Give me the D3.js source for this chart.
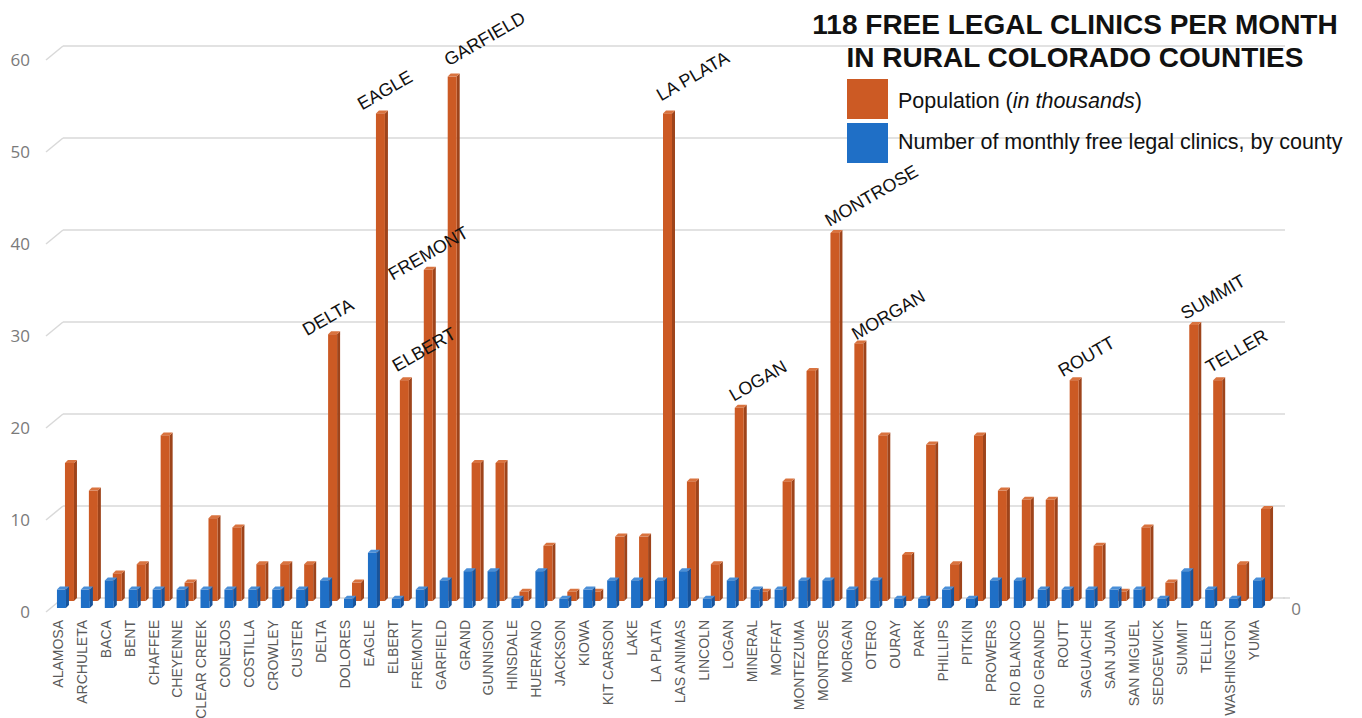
<!DOCTYPE html>
<html>
<head>
<meta charset="utf-8">
<script src="https://cdn.jsdelivr.net/npm/d3@7"></script>
<style>
  body { margin: 0; background: #fff; }
  svg  { display: block; }
</style>
</head>
<body>
<svg id="chart" width="1362" height="718"></svg>
<script>
// ── Data ──────────────────────────────────────────────────────────────────────

const counties = [
  'ALAMOSA', 'ARCHULETA', 'BACA', 'BENT', 'CHAFFEE', 'CHEYENNE', 'CLEAR CREEK',
  'CONEJOS', 'COSTILLA', 'CROWLEY', 'CUSTER', 'DELTA', 'DOLORES', 'EAGLE',
  'ELBERT', 'FREMONT', 'GARFIELD', 'GRAND', 'GUNNISON', 'HINSDALE', 'HUERFANO',
  'JACKSON', 'KIOWA', 'KIT CARSON', 'LAKE', 'LA PLATA', 'LAS ANIMAS', 'LINCOLN',
  'LOGAN', 'MINERAL', 'MOFFAT', 'MONTEZUMA', 'MONTROSE', 'MORGAN', 'OTERO',
  'OURAY', 'PARK', 'PHILLIPS', 'PITKIN', 'PROWERS', 'RIO BLANCO', 'RIO GRANDE',
  'ROUTT', 'SAGUACHE', 'SAN JUAN', 'SAN MIGUEL', 'SEDGEWICK', 'SUMMIT', 'TELLER',
  'WASHINGTON', 'YUMA'
];

// Population, in thousands
const population = [
  15, 12, 3, 4, 18, 2, 9,
  8, 4, 4, 4, 29, 2, 53,
  24, 36, 57, 15, 15, 1, 6,
  1, 1, 7, 7, 53, 13, 4,
  21, 1, 13, 25, 40, 28, 18,
  5, 17, 4, 18, 12, 11, 11,
  24, 6, 1, 8, 2, 30, 24,
  4, 10
];

// Monthly free legal clinics
const clinics = [
  2, 2, 3, 2, 2, 2, 2,
  2, 2, 2, 2, 3, 1, 6,
  1, 2, 3, 4, 4, 1, 4,
  1, 2, 3, 3, 3, 4, 1,
  3, 2, 2, 3, 3, 2, 3,
  1, 1, 2, 1, 3, 3, 2,
  2, 2, 2, 2, 1, 4, 2,
  1, 3
];

const yTicks = [0, 10, 20, 30, 40, 50, 60];

const calledOut = ['DELTA', 'EAGLE', 'ELBERT', 'FREMONT', 'GARFIELD', 'LA PLATA',
                   'LOGAN', 'MONTROSE', 'MORGAN', 'ROUTT', 'SUMMIT', 'TELLER'];

const titleLines = ['118 FREE LEGAL CLINICS PER MONTH', 'IN RURAL COLORADO COUNTIES'];

// ── Layout ────────────────────────────────────────────────────────────────────

const svg = d3.select('#chart');

// back wall of the 3D box
const x = d3.scaleBand().domain(counties).range([63, 1283]);
const y = d3.scaleLinear().domain([0, 60]).range([598, 46]);

const FRONT = { dx: -17, dy: 14 };   // axis labels plane
const ROW_POP = { dx: -4,  dy: 3 };  // orange row
const ROW_CLN = { dx: -12, dy: 10 }; // blue row
const FACE_W = 9, DEPTH = 3;

const COLORS = {
  pop: { front: '#cc5a24', side: '#9e441b', top: '#d9733f' },
  cln: { front: '#1f6fc6', side: '#17539a', top: '#4a8fd8' }
};

// per-label nudge for the rotated callouts (relative to bar top-left)
const calloutNudge = {
  'DELTA':   [-21, 2],
  'EAGLE':   [-14, -3],
  'GARFIELD':[1, -10],
  'FREMONT': [-31, 11],
  'ELBERT':  [-3, -8],
  'LA PLATA':[-2, -12],
  'ROUTT':   [-7, -3],
  'SUMMIT':  [-4, -5],
  'TELLER':  [-3, -7],
  'MORGAN':  [2, -3]
};

// ── Gridlines + y axis ────────────────────────────────────────────────────────

const grid = svg.append('g');
grid.selectAll('line.grid')
  .data(yTicks)
  .join('line')
  .attr('x1', 63).attr('x2', 1285)
  .attr('y1', d => y(d)).attr('y2', d => y(d))
  .attr('stroke', '#d9d9d9')
  .attr('stroke-width', 1.5);

grid.selectAll('line.diag')
  .data(yTicks)
  .join('line')
  .attr('x1', 63 + FRONT.dx).attr('y1', d => y(d) + FRONT.dy)
  .attr('x2', 63).attr('y2', d => y(d))
  .attr('stroke', '#d9d9d9')
  .attr('stroke-width', 1.5);

grid.selectAll('text.ylab')
  .data(yTicks)
  .join('text')
  .attr('x', 30)
  .attr('y', d => y(d) + FRONT.dy)
  .attr('dy', '0.35em')
  .attr('text-anchor', 'end')
  .attr('font-family', '"Open Sans", "Liberation Sans", sans-serif')
  .attr('font-size', 17)
  .attr('fill', '#7a7a7a')
  .text(d => d);

// right-hand secondary axis only shows its zero
grid.append('line')
  .attr('x1', 1283).attr('x2', 1290)
  .attr('y1', y(0)).attr('y2', y(0))
  .attr('stroke', '#d9d9d9').attr('stroke-width', 1.5);
grid.append('text')
  .attr('x', 1296).attr('y', y(0) + 11)
  .attr('dy', '0.35em')
  .attr('text-anchor', 'middle')
  .attr('font-family', '"Open Sans", "Liberation Sans", sans-serif')
  .attr('font-size', 17)
  .attr('fill', '#7a7a7a')
  .text('0');

// ── 3D-ish bars ───────────────────────────────────────────────────────────────

function drawBars(cls, values, row, col) {
  const g = svg.append('g').attr('class', cls);
  const bars = g.selectAll('g.bar')
    .data(counties.map((c, i) => ({ c, v: values[i] })))
    .join('g')
    .attr('class', 'bar');

  const left = d => x(d.c) + x.bandwidth() / 2 + row.dx - 6;
  const top  = d => y(d.v) + row.dy;
  const base = y(0) + row.dy;

  bars.append('polygon')
    .attr('points', d => {
      const l = left(d) + FACE_W, t = top(d);
      return [[l, t], [l + DEPTH, t - DEPTH], [l + DEPTH, base - DEPTH], [l, base]].join(' ');
    })
    .attr('fill', col.side);

  bars.append('polygon')
    .attr('points', d => {
      const l = left(d), t = top(d);
      return [[l, t], [l + DEPTH, t - DEPTH], [l + FACE_W + DEPTH, t - DEPTH], [l + FACE_W, t]].join(' ');
    })
    .attr('fill', col.top);

  bars.append('rect')
    .attr('x', left)
    .attr('y', top)
    .attr('width', FACE_W)
    .attr('height', d => base - top(d))
    .attr('fill', col.front);
}

drawBars('pop', population, ROW_POP, COLORS.pop);
drawBars('cln', clinics, ROW_CLN, COLORS.cln);

// ── X labels ──────────────────────────────────────────────────────────────────

svg.append('g')
  .selectAll('text')
  .data(counties)
  .join('text')
  .attr('transform', d => `translate(${x(d) + x.bandwidth() / 2 + ROW_CLN.dx - 5},620) rotate(-90)`)
  .attr('dy', '0.35em')
  .attr('text-anchor', 'end')
  .attr('font-family', '"Liberation Sans", Arial, sans-serif')
  .attr('font-size', 14)
  .attr('fill', '#5a5a5a')
  .text(d => d);

// ── Callouts ──────────────────────────────────────────────────────────────────

svg.append('g')
  .selectAll('text')
  .data(calledOut)
  .join('text')
  .attr('transform', d => {
    const i = counties.indexOf(d);
    const n = calloutNudge[d] || [-1, -6];
    const bx = x(d) + x.bandwidth() / 2 + ROW_POP.dx - 6 + n[0];
    const by = y(population[i]) + ROW_POP.dy + n[1];
    return `translate(${bx},${by}) rotate(-30)`;
  })
  .attr('font-family', '"Liberation Sans", Arial, sans-serif')
  .attr('font-size', 18)
  .attr('fill', '#111')
  .text(d => d);

// ── Title + legend ────────────────────────────────────────────────────────────

svg.append('g')
  .selectAll('text')
  .data(titleLines)
  .join('text')
  .attr('x', 1075)
  .attr('y', (d, i) => 34 + i * 33)
  .attr('text-anchor', 'middle')
  .attr('font-family', '"Liberation Sans", Arial, sans-serif')
  .attr('font-weight', 'bold')
  .attr('font-size', 28)
  .attr('fill', '#111')
  .text(d => d);

const legend = svg.append('g').attr('transform', 'translate(847,79)');
legend.append('rect').attr('width', 41).attr('height', 40).attr('fill', COLORS.pop.front);
legend.append('rect').attr('y', 44).attr('width', 41).attr('height', 40).attr('fill', COLORS.cln.front);

const popLab = legend.append('text')
  .attr('x', 51).attr('y', 29)
  .attr('font-family', '"Liberation Sans", Arial, sans-serif')
  .attr('font-size', 21.5)
  .attr('fill', '#111');
popLab.append('tspan').text('Population (');
popLab.append('tspan').attr('font-style', 'italic').text('in thousands');
popLab.append('tspan').text(')');

legend.append('text')
  .attr('x', 51).attr('y', 70)
  .attr('font-family', '"Liberation Sans", Arial, sans-serif')
  .attr('font-size', 21.5)
  .attr('fill', '#111')
  .text('Number of monthly free legal clinics, by county');
</script>
</body>
</html>
